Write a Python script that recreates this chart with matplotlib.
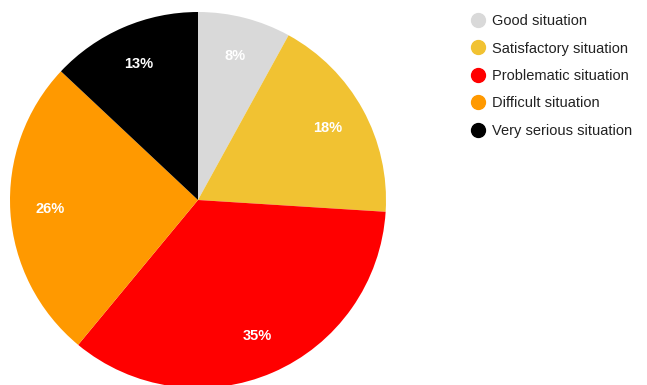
import matplotlib.pyplot as plt
from matplotlib.lines import Line2D

plt.rcParams['font.family'] = ['Liberation Sans', 'DejaVu Sans']

labels = ["Good situation", "Satisfactory situation", "Problematic situation",
          "Difficult situation", "Very serious situation"]
shares = [8, 18, 35, 26, 13]
colors = ["#d9d9d9", "#f1c232", "#ff0000", "#ff9900", "#000000"]

fig = plt.figure(figsize=(6.47, 3.85), dpi=100)
# pie centre at about (198, 200) px, radius 188 px
ax = fig.add_axes([10 / 647, -3 / 385, 376 / 647, 376 / 385])

wedges, texts, autotexts = ax.pie(
    shares, colors=colors, startangle=90, counterclock=False,
    autopct=lambda p: f"{p:.0f}%", pctdistance=0.79,
    wedgeprops=dict(linewidth=0), radius=1.0)
for t in autotexts:
    t.set_color("white")
    t.set_fontsize(10.5)
    t.set_fontweight("bold")
ax.set_xlim(-1, 1)
ax.set_ylim(-1, 1)
ax.set_aspect("equal")

handles = [Line2D([], [], marker="o", linestyle="none", markersize=10,
                  markerfacecolor=c, markeredgecolor=c) for c in colors]
fig.legend(handles, labels, loc="upper left", bbox_to_anchor=(456 / 647, 1 - 1 / 385),
           frameon=False, fontsize=10.5, labelspacing=0.92, handletextpad=0.4,
           handlelength=1.2, labelcolor="#222222")

fig.savefig("out.png", dpi=100)
